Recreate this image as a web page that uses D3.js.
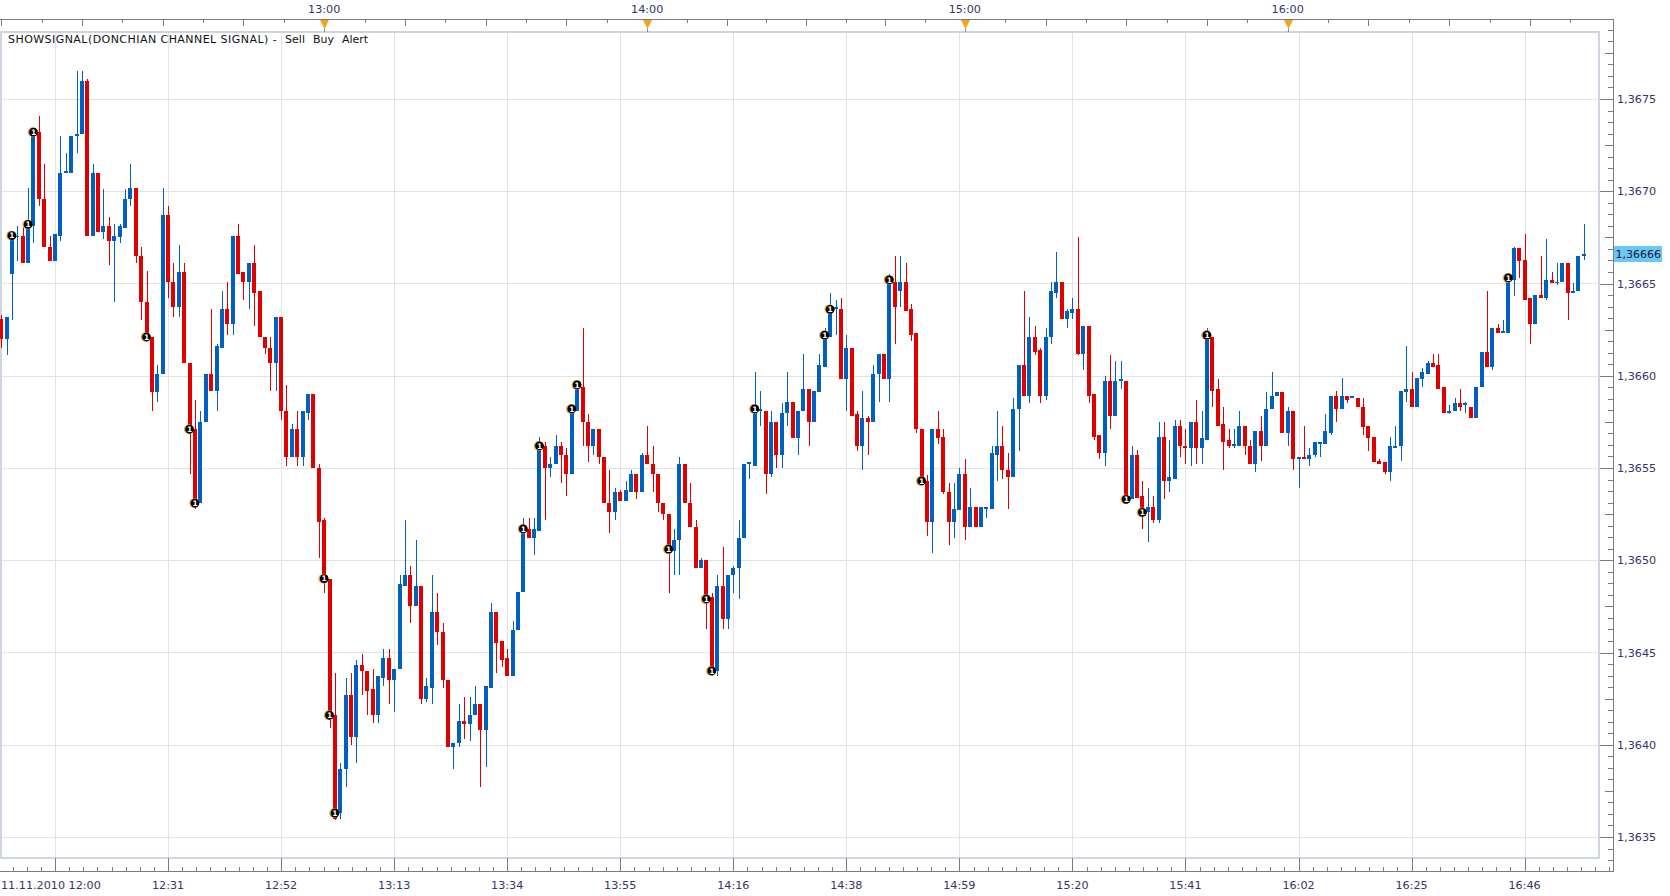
<!DOCTYPE html>
<html>
<head>
<meta charset="utf-8">
<script src="https://cdn.jsdelivr.net/npm/d3@7"></script>
<style>
  body { margin: 0; background: #fff; }
  svg { display: block; }
  text { font-family: "DejaVu Sans", Verdana, sans-serif; }
</style>
</head>
<body>
<svg id="chart" width="1670" height="896"></svg>
<script>
// one-minute candles (bar 0 = first visible bar)
var openP = [
  1.36631,1.36620,1.36655,1.36675,1.36676,1.36661,1.36681,1.36732,1.36696,1.36670,
  1.36662,1.36676,1.36710,1.36710,1.36730,1.36731,1.36760,1.36676,1.36710,1.36678,
  1.36681,1.36673,1.36675,1.36680,1.36696,1.36702,1.36665,1.36640,1.36621,1.36591,
  1.36601,1.36687,1.36651,1.36637,1.36656,1.36607,1.36571,1.36531,1.36575,1.36601,
  1.36592,1.36615,1.36636,1.36628,1.36676,1.36656,1.36651,1.36661,1.36646,1.36621,
  1.36615,1.36607,1.36632,1.36581,1.36556,1.36571,1.36556,1.36580,1.36590,1.36550,
  1.36522,1.36490,1.36416,1.36363,1.36387,1.36427,1.36404,1.36443,1.36440,1.36430,
  1.36416,1.36436,1.36447,1.36435,1.36441,1.36486,1.36492,1.36475,1.36486,1.36425,
  1.36431,1.36472,1.36461,1.36435,1.36399,1.36401,1.36413,1.36411,1.36416,1.36422,
  1.36408,1.36431,1.36472,1.36456,1.36447,1.36437,1.36462,1.36483,1.36517,1.36512,
  1.36516,1.36562,1.36550,1.36552,1.36562,1.36557,1.36547,1.36581,1.36594,1.36575,
  1.36562,1.36571,1.36556,1.36531,1.36526,1.36537,1.36532,1.36537,1.36547,1.36537,
  1.36557,1.36552,1.36547,1.36531,1.36525,1.36505,1.36511,1.36552,1.36531,1.36518,
  1.36496,1.36500,1.36480,1.36440,1.36486,1.36468,1.36492,1.36496,1.36512,1.36552,
  1.36551,1.36581,1.36581,1.36547,1.36575,1.36557,1.36580,1.36586,1.36566,1.36581,
  1.36593,1.36575,1.36591,1.36605,1.36621,1.36636,1.36636,1.36598,1.36615,1.36579,
  1.36562,1.36577,1.36575,1.36601,1.36612,1.36598,1.36651,1.36646,1.36651,1.36636,
  1.36623,1.36571,1.36543,1.36521,1.36571,1.36567,1.36537,1.36521,1.36527,1.36547,
  1.36518,1.36529,1.36518,1.36528,1.36528,1.36557,1.36562,1.36549,1.36545,1.36582,
  1.36606,1.36589,1.36621,1.36614,1.36589,1.36621,1.36645,1.36651,1.36631,1.36634,
  1.36636,1.36612,1.36627,1.36590,1.36568,1.36558,1.36597,1.36578,1.36597,1.36597,
  1.36533,1.36557,1.36535,1.36526,1.36529,1.36522,1.36567,1.36543,1.36544,1.36573,
  1.36562,1.36561,1.36575,1.36561,1.36565,1.36621,1.36593,1.36574,1.36565,1.36562,
  1.36562,1.36573,1.36562,1.36552,1.36570,1.36562,1.36582,1.36589,1.36591,1.36569,
  1.36581,1.36555,1.36556,1.36555,1.36557,1.36563,1.36563,1.36569,1.36589,1.36582,
  1.36589,1.36588,1.36588,1.36583,1.36573,1.36567,1.36554,1.36553,1.36548,1.36561,
  1.36562,1.36591,1.36593,1.36583,1.36598,1.36601,1.36607,1.36606,1.36594,1.36580,
  1.36581,1.36585,1.36584,1.36583,1.36577,1.36594,1.36613,1.36605,1.36626,1.36623,
  1.36623,1.36652,1.36669,1.36663,1.36642,1.36628,1.36644,1.36642,1.36652,1.36650,
  1.36651,1.36661,1.36645,1.36646,1.36665
];
var highP = [
  1.36633,1.36632,1.36677,1.36681,1.36681,1.36702,1.36732,1.36741,1.36715,1.36676,
  1.36677,1.36730,1.36721,1.36730,1.36765,1.36765,1.36761,1.36715,1.36710,1.36701,
  1.36686,1.36682,1.36682,1.36701,1.36715,1.36702,1.36670,1.36657,1.36621,1.36606,
  1.36702,1.36692,1.36661,1.36671,1.36661,1.36607,1.36587,1.36581,1.36601,1.36636,
  1.36617,1.36646,1.36651,1.36676,1.36682,1.36656,1.36661,1.36671,1.36646,1.36621,
  1.36621,1.36632,1.36632,1.36595,1.36574,1.36581,1.36581,1.36590,1.36590,1.36552,
  1.36523,1.36490,1.36439,1.36390,1.36436,1.36439,1.36446,1.36449,1.36440,1.36441,
  1.36437,1.36452,1.36452,1.36441,1.36492,1.36522,1.36497,1.36511,1.36486,1.36436,
  1.36492,1.36482,1.36466,1.36435,1.36401,1.36422,1.36426,1.36426,1.36432,1.36422,
  1.36432,1.36477,1.36472,1.36456,1.36452,1.36467,1.36483,1.36523,1.36523,1.36523,
  1.36567,1.36564,1.36556,1.36568,1.36564,1.36561,1.36582,1.36597,1.36626,1.36579,
  1.36571,1.36571,1.36556,1.36549,1.36539,1.36538,1.36543,1.36549,1.36547,1.36558,
  1.36573,1.36562,1.36547,1.36531,1.36525,1.36517,1.36556,1.36552,1.36542,1.36522,
  1.36501,1.36500,1.36482,1.36492,1.36507,1.36492,1.36497,1.36522,1.36552,1.36553,
  1.36602,1.36592,1.36581,1.36581,1.36575,1.36585,1.36602,1.36586,1.36581,1.36612,
  1.36593,1.36592,1.36612,1.36626,1.36645,1.36641,1.36642,1.36622,1.36615,1.36581,
  1.36592,1.36578,1.36606,1.36612,1.36612,1.36655,1.36665,1.36665,1.36661,1.36639,
  1.36623,1.36571,1.36546,1.36571,1.36581,1.36571,1.36542,1.36542,1.36550,1.36555,
  1.36539,1.36529,1.36529,1.36529,1.36562,1.36581,1.36573,1.36558,1.36588,1.36606,
  1.36646,1.36632,1.36627,1.36615,1.36626,1.36651,1.36667,1.36651,1.36636,1.36642,
  1.36675,1.36627,1.36627,1.36590,1.36568,1.36600,1.36611,1.36608,1.36608,1.36597,
  1.36562,1.36560,1.36543,1.36539,1.36535,1.36575,1.36575,1.36565,1.36576,1.36576,
  1.36571,1.36575,1.36587,1.36581,1.36626,1.36621,1.36598,1.36583,1.36571,1.36571,
  1.36581,1.36573,1.36565,1.36570,1.36578,1.36591,1.36602,1.36591,1.36591,1.36583,
  1.36581,1.36556,1.36573,1.36561,1.36564,1.36564,1.36579,1.36589,1.36592,1.36599,
  1.36589,1.36589,1.36588,1.36588,1.36573,1.36567,1.36555,1.36553,1.36567,1.36573,
  1.36592,1.36616,1.36602,1.36599,1.36604,1.36608,1.36612,1.36612,1.36594,1.36584,
  1.36588,1.36593,1.36586,1.36583,1.36594,1.36613,1.36646,1.36626,1.36628,1.36630,
  1.36653,1.36670,1.36669,1.36677,1.36642,1.36644,1.36665,1.36674,1.36656,1.36661,
  1.36661,1.36661,1.36650,1.36665,1.36682
];
var lowP = [
  1.36615,1.36611,1.36630,1.36662,1.36661,1.36661,1.36672,1.36692,1.36670,1.36662,
  1.36662,1.36673,1.36710,1.36710,1.36721,1.36731,1.36676,1.36676,1.36678,1.36674,
  1.36660,1.36640,1.36672,1.36680,1.36692,1.36661,1.36630,1.36621,1.36581,1.36586,
  1.36601,1.36642,1.36632,1.36632,1.36607,1.36547,1.36528,1.36531,1.36575,1.36592,
  1.36581,1.36615,1.36622,1.36622,1.36655,1.36641,1.36636,1.36627,1.36621,1.36612,
  1.36592,1.36592,1.36576,1.36551,1.36556,1.36551,1.36551,1.36576,1.36550,1.36501,
  1.36482,1.36409,1.36359,1.36360,1.36377,1.36400,1.36390,1.36427,1.36416,1.36412,
  1.36412,1.36432,1.36422,1.36418,1.36441,1.36486,1.36466,1.36475,1.36422,1.36423,
  1.36422,1.36454,1.36431,1.36399,1.36387,1.36399,1.36403,1.36402,1.36416,1.36377,
  1.36388,1.36431,1.36439,1.36442,1.36437,1.36437,1.36462,1.36483,1.36512,1.36503,
  1.36516,1.36522,1.36545,1.36552,1.36542,1.36535,1.36547,1.36581,1.36562,1.36553,
  1.36557,1.36552,1.36531,1.36515,1.36522,1.36532,1.36532,1.36537,1.36533,1.36537,
  1.36552,1.36537,1.36526,1.36522,1.36482,1.36492,1.36492,1.36531,1.36518,1.36496,
  1.36496,1.36463,1.36437,1.36437,1.36463,1.36463,1.36482,1.36479,1.36512,1.36544,
  1.36551,1.36573,1.36536,1.36545,1.36550,1.36550,1.36573,1.36566,1.36557,1.36581,
  1.36562,1.36575,1.36591,1.36605,1.36621,1.36622,1.36598,1.36581,1.36578,1.36559,
  1.36549,1.36557,1.36575,1.36586,1.36598,1.36586,1.36617,1.36637,1.36635,1.36619,
  1.36569,1.36543,1.36513,1.36504,1.36563,1.36536,1.36508,1.36512,1.36527,1.36511,
  1.36518,1.36518,1.36518,1.36523,1.36528,1.36543,1.36544,1.36528,1.36545,1.36559,
  1.36589,1.36585,1.36611,1.36585,1.36587,1.36617,1.36642,1.36631,1.36626,1.36631,
  1.36611,1.36603,1.36585,1.36565,1.36555,1.36551,1.36571,1.36578,1.36593,1.36533,
  1.36533,1.36534,1.36517,1.36510,1.36520,1.36520,1.36533,1.36537,1.36544,1.36556,
  1.36552,1.36551,1.36552,1.36552,1.36565,1.36583,1.36573,1.36549,1.36561,1.36561,
  1.36562,1.36557,1.36552,1.36548,1.36554,1.36562,1.36582,1.36589,1.36569,1.36562,
  1.36549,1.36539,1.36555,1.36551,1.36556,1.36556,1.36563,1.36568,1.36575,1.36582,
  1.36585,1.36588,1.36583,1.36568,1.36559,1.36553,1.36552,1.36547,1.36543,1.36561,
  1.36554,1.36586,1.36583,1.36583,1.36594,1.36601,1.36605,1.36593,1.36580,1.36579,
  1.36581,1.36581,1.36580,1.36577,1.36577,1.36594,1.36605,1.36603,1.36623,1.36623,
  1.36623,1.36643,1.36653,1.36641,1.36617,1.36628,1.36642,1.36641,1.36650,1.36649,
  1.36651,1.36630,1.36645,1.36646,1.36663
];
var closeP = [
  1.36620,1.36632,1.36676,1.36676,1.36661,1.36682,1.36732,1.36696,1.36670,1.36662,
  1.36677,1.36710,1.36711,1.36730,1.36731,1.36760,1.36676,1.36710,1.36678,1.36681,
  1.36673,1.36676,1.36681,1.36696,1.36702,1.36665,1.36640,1.36621,1.36591,1.36601,
  1.36687,1.36651,1.36637,1.36656,1.36607,1.36571,1.36531,1.36575,1.36601,1.36592,
  1.36616,1.36636,1.36628,1.36676,1.36655,1.36651,1.36661,1.36645,1.36621,1.36615,
  1.36607,1.36632,1.36581,1.36556,1.36571,1.36556,1.36581,1.36590,1.36550,1.36521,
  1.36490,1.36416,1.36360,1.36387,1.36427,1.36404,1.36443,1.36440,1.36429,1.36416,
  1.36437,1.36447,1.36435,1.36441,1.36487,1.36492,1.36475,1.36486,1.36425,1.36432,
  1.36472,1.36461,1.36435,1.36399,1.36401,1.36413,1.36411,1.36416,1.36422,1.36408,
  1.36432,1.36472,1.36455,1.36446,1.36437,1.36462,1.36483,1.36517,1.36512,1.36517,
  1.36562,1.36550,1.36552,1.36562,1.36557,1.36547,1.36582,1.36595,1.36575,1.36562,
  1.36571,1.36556,1.36531,1.36526,1.36537,1.36532,1.36538,1.36547,1.36537,1.36557,
  1.36552,1.36547,1.36531,1.36525,1.36506,1.36511,1.36552,1.36531,1.36518,1.36496,
  1.36500,1.36479,1.36440,1.36486,1.36468,1.36492,1.36496,1.36512,1.36552,1.36553,
  1.36582,1.36582,1.36547,1.36575,1.36557,1.36580,1.36586,1.36566,1.36581,1.36593,
  1.36575,1.36592,1.36606,1.36622,1.36636,1.36637,1.36598,1.36615,1.36578,1.36562,
  1.36577,1.36575,1.36601,1.36612,1.36598,1.36652,1.36637,1.36651,1.36635,1.36622,
  1.36571,1.36543,1.36521,1.36571,1.36566,1.36537,1.36521,1.36528,1.36547,1.36518,
  1.36529,1.36518,1.36529,1.36529,1.36558,1.36562,1.36549,1.36545,1.36582,1.36606,
  1.36589,1.36621,1.36613,1.36589,1.36621,1.36646,1.36651,1.36631,1.36635,1.36636,
  1.36612,1.36627,1.36589,1.36567,1.36558,1.36597,1.36578,1.36597,1.36598,1.36533,
  1.36557,1.36534,1.36526,1.36529,1.36522,1.36567,1.36543,1.36545,1.36573,1.36562,
  1.36561,1.36575,1.36561,1.36566,1.36621,1.36592,1.36573,1.36564,1.36562,1.36563,
  1.36573,1.36562,1.36552,1.36570,1.36562,1.36582,1.36589,1.36591,1.36569,1.36581,
  1.36555,1.36556,1.36555,1.36557,1.36564,1.36564,1.36570,1.36589,1.36582,1.36589,
  1.36587,1.36589,1.36583,1.36572,1.36566,1.36553,1.36552,1.36548,1.36562,1.36562,
  1.36592,1.36593,1.36583,1.36599,1.36602,1.36607,1.36605,1.36593,1.36580,1.36581,
  1.36585,1.36583,1.36585,1.36577,1.36594,1.36613,1.36605,1.36626,1.36623,1.36624,
  1.36653,1.36669,1.36662,1.36641,1.36628,1.36644,1.36642,1.36652,1.36650,1.36651,
  1.36661,1.36645,1.36646,1.36665,1.36666
];

// Donchian channel signals ("1" markers)
var signalBars   = [2, 5, 6, 27, 35, 36, 60, 61, 62, 97, 100, 106, 107, 124, 131, 132, 140, 153, 154, 165, 171, 209, 212, 224, 280];
var signalPrices = [1.36676, 1.36682, 1.36732, 1.36621, 1.36571, 1.36531, 1.36490, 1.36416, 1.36363, 1.36517,
                    1.36562, 1.36582, 1.36595, 1.36506, 1.36479, 1.36440, 1.36582, 1.36622, 1.36636, 1.36652,
                    1.36543, 1.36533, 1.36526, 1.36622, 1.36653];

// axes
var timeLabels = ["11.11.2010 12:00", "12:31", "12:52", "13:13", "13:34", "13:55", "14:16",
                  "14:38", "14:59", "15:20", "15:41", "16:02", "16:25", "16:46"];
var timeLabelBars = [10, 31, 52, 73, 94, 115, 136, 157, 178, 199, 220, 241, 262, 283];
var hourLabels = ["13:00", "14:00", "15:00", "16:00"];
var hourBars = [60, 120, 179, 239];
var priceTicks = [1.3635, 1.3640, 1.3645, 1.3650, 1.3655, 1.3660, 1.3665, 1.3670, 1.3675];
var lastPrice = 1.36666;

var titleParts = ["SHOWSIGNAL(DONCHIAN CHANNEL SIGNAL) -", "Sell", "Buy", "Alert"];

var upColor = "#0060c2", downColor = "#e00000";
var axisColor = "#7c7c7c", gridColor = "#e2e2e2", labelColor = "#34346c";

var plotL = 1, plotR = 1599, plotT = 32, plotB = 858;
var axisX = 1613.5, topAxisY = 19.5, bottomAxisY = 871.5;

var svg = d3.select("#chart");

var x = d3.scaleLinear().domain([0, openP.length - 1]).range([1.2, 1583.8]);
var y = d3.scaleLinear().domain([1.3635, 1.3675]).range([837, 99]);

var loc = d3.formatLocale({ decimal: ",", thousands: ".", grouping: [3], currency: ["", ""] });
var fmtTick = loc.format(".4f");
var fmtLast = loc.format(".5f");

// gridlines
svg.append("g")
    .selectAll("line")
    .data(priceTicks)
    .enter()
    .append("line")
    .attr("x1", plotL).attr("x2", plotR)
    .attr("y1", function (d) { return Math.round(y(d)) + 0.5; })
    .attr("y2", function (d) { return Math.round(y(d)) + 0.5; })
    .attr("stroke", gridColor);

svg.append("g")
    .selectAll("line")
    .data(timeLabelBars)
    .enter()
    .append("line")
    .attr("x1", function (d) { return Math.round(x(d)) + 0.5; })
    .attr("x2", function (d) { return Math.round(x(d)) + 0.5; })
    .attr("y1", plotT).attr("y2", plotB)
    .attr("stroke", gridColor);

// plot frame
svg.append("rect")
    .attr("x", plotL).attr("y", plotT)
    .attr("width", plotR - plotL).attr("height", plotB - plotT)
    .attr("fill", "none")
    .attr("stroke", "#ccd5e1")
    .attr("stroke-width", 2);

// candles
var bars = d3.range(openP.length).map(function (i) {
    return { i: i, o: openP[i], h: highP[i], l: lowP[i], c: closeP[i] };
});

var candle = svg.append("g")
    .attr("shape-rendering", "crispEdges")
    .selectAll("g")
    .data(bars)
    .enter()
    .append("g")
    .attr("fill", function (d) { return d.c >= d.o ? upColor : downColor; });

candle.append("rect")
    .attr("x", function (d) { return Math.round(x(d.i)); })
    .attr("width", 1)
    .attr("y", function (d) { return Math.round(y(d.h)); })
    .attr("height", function (d) { return Math.max(1, Math.round(y(d.l)) - Math.round(y(d.h))); });

candle.append("rect")
    .attr("x", function (d) { return Math.round(x(d.i)) - 2; })
    .attr("width", 4)
    .attr("y", function (d) { return Math.round(y(Math.max(d.o, d.c))); })
    .attr("height", function (d) {
        return Math.max(1, Math.round(y(Math.min(d.o, d.c))) - Math.round(y(Math.max(d.o, d.c))));
    });

// signal markers
var sig = svg.append("g")
    .selectAll("g")
    .data(signalBars.map(function (b, i) { return { b: b, p: signalPrices[i] }; }))
    .enter()
    .append("g")
    .attr("transform", function (d) { return "translate(" + x(d.b) + "," + y(d.p) + ")"; });

sig.append("circle").attr("cx", -0.8).attr("r", 4.9).attr("fill", "#e9a23b");
sig.append("circle").attr("r", 4.4).attr("fill", "#000");
sig.append("text")
    .attr("text-anchor", "middle")
    .attr("y", 2.7)
    .style("font-size", "7.5px")
    .style("font-weight", "bold")
    .attr("fill", "#fff")
    .text("1");

// title (the caps part is set a little wider, like the original UI font)
var tx = 8;
titleParts.forEach(function (t, i) {
    var el = svg.append("text")
        .attr("x", tx).attr("y", 42.5)
        .style("font-size", "11px")
        .style("letter-spacing", i === 0 ? "0.45px" : "0px")
        .attr("fill", "#111")
        .text(t);
    tx += el.node().getComputedTextLength() + 8;
});

// top axis
var topAxis = svg.append("g").attr("shape-rendering", "crispEdges");
topAxis.append("line")
    .attr("x1", 0).attr("x2", axisX + 0.5)
    .attr("y1", topAxisY).attr("y2", topAxisY)
    .attr("stroke", axisColor);

var hx = hourBars.map(function (b) { return x(b); });
var topTicks = [];
var s0 = (hx[1] - hx[0]) / 8;
for (var m = 1; hx[0] - m * s0 > 0; m++) topTicks.push({ x: hx[0] - m * s0, long: m % 2 === 0 });
for (var h = 0; h < hx.length - 1; h++) {
    var s = (hx[h + 1] - hx[h]) / 8;
    for (var m2 = 1; m2 < 8; m2++) topTicks.push({ x: hx[h] + m2 * s, long: m2 % 2 === 0 });
}
var sN = (hx[hx.length - 1] - hx[hx.length - 2]) / 8;
for (var m3 = 1; hx[hx.length - 1] + m3 * sN < axisX - 4; m3++) {
    topTicks.push({ x: hx[hx.length - 1] + m3 * sN, long: m3 % 2 === 0 });
}

topAxis.selectAll(".tt")
    .data(topTicks)
    .enter()
    .append("line")
    .attr("x1", function (d) { return Math.round(d.x) + 0.5; })
    .attr("x2", function (d) { return Math.round(d.x) + 0.5; })
    .attr("y1", topAxisY)
    .attr("y2", function (d) { return d.long ? 26 : 23; })
    .attr("stroke", axisColor);

topAxis.selectAll(".hl")
    .data(hx)
    .enter()
    .append("line")
    .attr("x1", function (d) { return Math.round(d) + 0.5; })
    .attr("x2", function (d) { return Math.round(d) + 0.5; })
    .attr("y1", 27).attr("y2", 32)
    .attr("stroke", "#8a8a8a");

svg.append("g")
    .selectAll("path")
    .data(hx)
    .enter()
    .append("path")
    .attr("d", function (d) {
        var c = Math.round(d) + 0.5;
        return "M" + (c - 4.5) + ",20L" + (c + 4.5) + ",20L" + c + ",29Z";
    })
    .attr("fill", "#f5a122");

svg.append("g")
    .selectAll("text")
    .data(hourLabels)
    .enter()
    .append("text")
    .attr("x", function (d, i) { return hx[i]; })
    .attr("y", 13)
    .attr("text-anchor", "middle")
    .style("font-size", "11.2px")
    .attr("fill", labelColor)
    .text(function (d) { return d; });

// right price axis
var rightAxis = svg.append("g").attr("shape-rendering", "crispEdges");
rightAxis.append("line")
    .attr("x1", axisX).attr("x2", axisX)
    .attr("y1", topAxisY).attr("y2", bottomAxisY)
    .attr("stroke", axisColor);

var pStep = 0.0005 / 8, pTicks = [];
for (var j = -2; y(1.3635 + j * pStep) >= topAxisY + 2; j++) pTicks.push(j);

rightAxis.selectAll(".pt")
    .data(pTicks)
    .enter()
    .append("line")
    .attr("x1", function (d) { return axisX - (d % 8 === 0 ? 14 : (d % 4 === 0 ? 9 : 6)); })
    .attr("x2", axisX)
    .attr("y1", function (d) { return Math.round(y(1.3635 + d * pStep)) + 0.5; })
    .attr("y2", function (d) { return Math.round(y(1.3635 + d * pStep)) + 0.5; })
    .attr("stroke", axisColor);

svg.append("g")
    .selectAll("text")
    .data(priceTicks)
    .enter()
    .append("text")
    .attr("x", 1617)
    .attr("y", function (d) { return y(d) + 4; })
    .style("font-size", "11.2px")
    .attr("fill", labelColor)
    .text(function (d) { return fmtTick(d); });

// last price box
svg.append("rect")
    .attr("x", 1614).attr("y", Math.round(y(lastPrice)) - 8)
    .attr("width", 48).attr("height", 16)
    .attr("fill", "#6ac8f5");
svg.append("text")
    .attr("x", 1615.5).attr("y", y(lastPrice) + 4)
    .style("font-size", "11px")
    .attr("fill", "#14143c")
    .text(fmtLast(lastPrice));

// bottom time axis
var bottomAxis = svg.append("g").attr("shape-rendering", "crispEdges");
bottomAxis.append("line")
    .attr("x1", 0).attr("x2", axisX + 0.5)
    .attr("y1", bottomAxisY).attr("y2", bottomAxisY)
    .attr("stroke", axisColor);

var bStep = 21 / 8, bTicks = [];
for (var n = -3; x(timeLabelBars[0] + n * bStep) < axisX - 3; n++) bTicks.push(n);

bottomAxis.selectAll(".bt")
    .data(bTicks)
    .enter()
    .append("line")
    .attr("x1", function (d) { return Math.round(x(timeLabelBars[0] + d * bStep)) + 0.5; })
    .attr("x2", function (d) { return Math.round(x(timeLabelBars[0] + d * bStep)) + 0.5; })
    .attr("y1", function (d) { return ((d % 8) + 8) % 8 === 0 ? plotB : bottomAxisY - 5; })
    .attr("y2", bottomAxisY)
    .attr("stroke", axisColor);

svg.append("g")
    .selectAll("text")
    .data(timeLabels)
    .enter()
    .append("text")
    .attr("x", function (d, i) { return i === 0 ? 1 : x(timeLabelBars[i]); })
    .attr("y", 888.5)
    .attr("text-anchor", function (d, i) { return i === 0 ? "start" : "middle"; })
    .style("font-size", "11.2px")
    .attr("fill", labelColor)
    .text(function (d) { return d; });
</script>
</body>
</html>
